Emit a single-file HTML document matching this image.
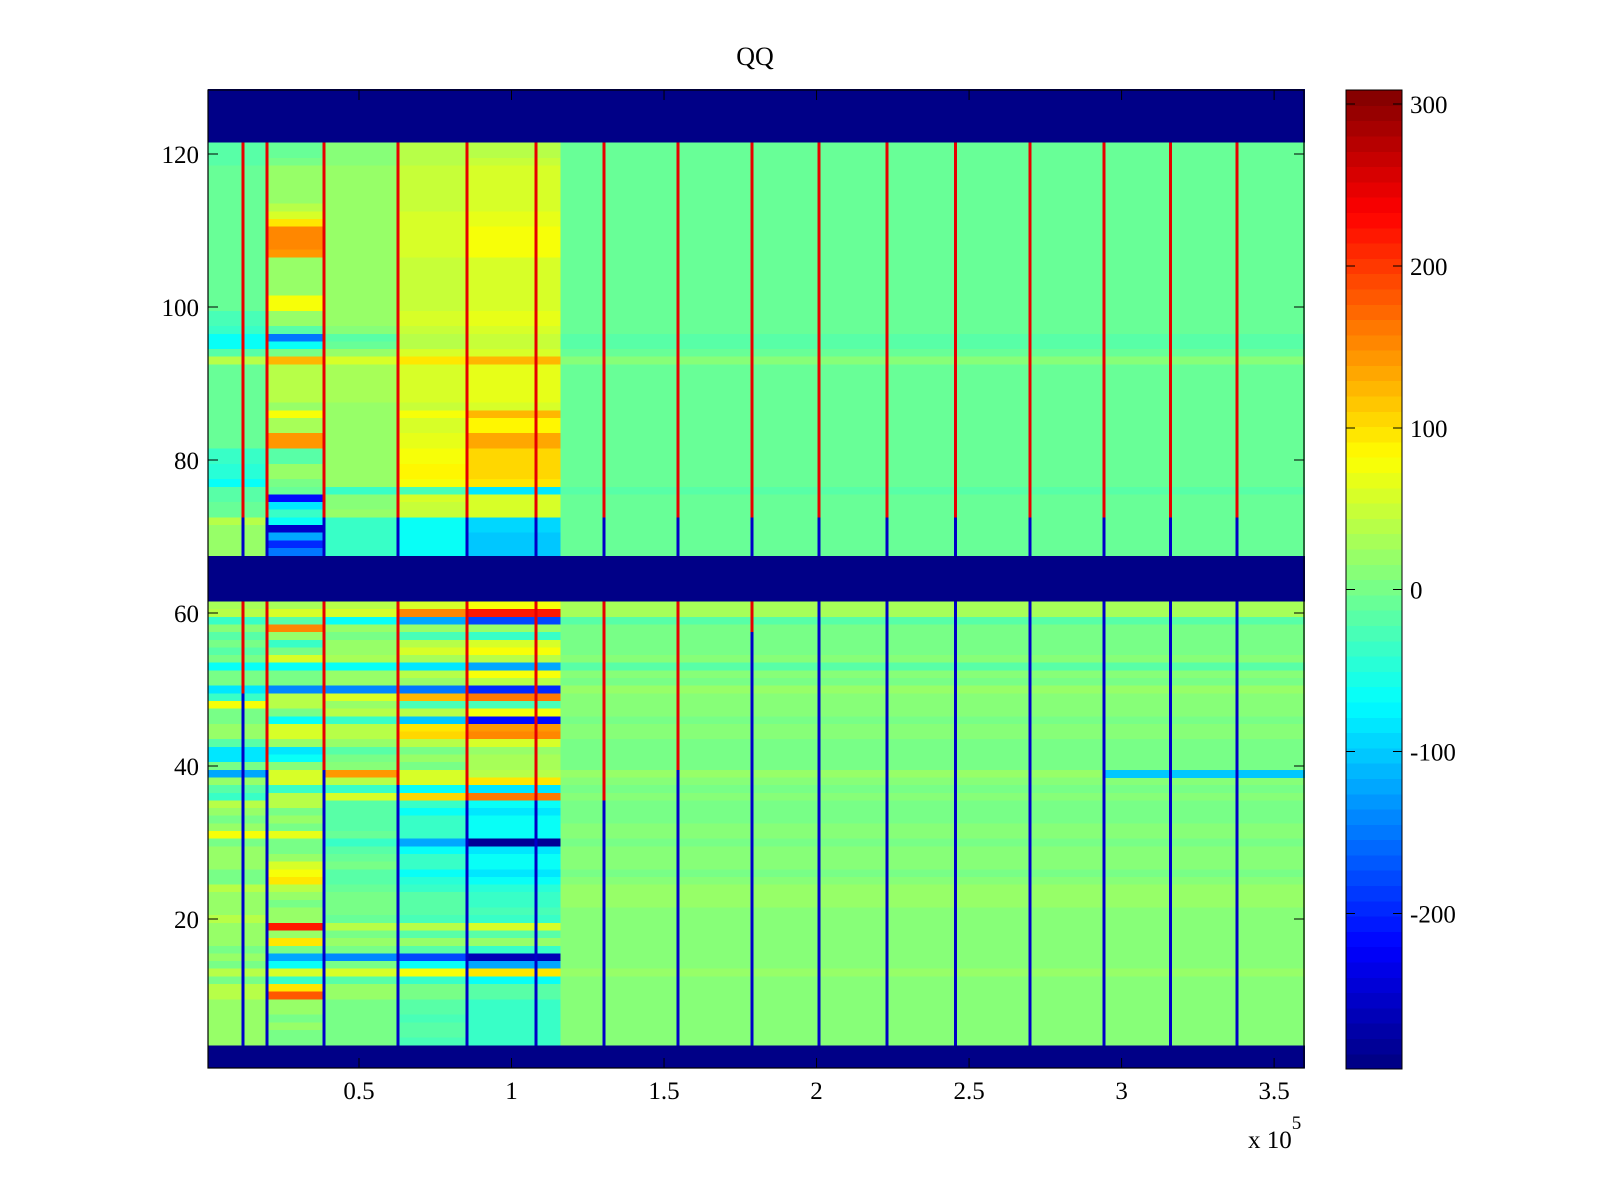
<!DOCTYPE html>
<html>
<head>
<meta charset="utf-8">
<style>
  html,body{margin:0;padding:0;background:#fff;}
  #wrap{position:relative;width:1600px;height:1200px;overflow:hidden;background:#fff;}
  svg text{font-family:"Liberation Serif","DejaVu Serif",serif;fill:#000;}
</style>
</head>
<body>
<div id="wrap">
<svg id="chart" width="1600" height="1200" viewBox="0 0 1600 1200" xmlns="http://www.w3.org/2000/svg">
  <g id="cells" shape-rendering="crispEdges"></g>
  <g id="vlines" shape-rendering="crispEdges"></g>
  <g id="axes"></g>
  <g id="cbar" shape-rendering="crispEdges"></g>
  <text x="755" y="65" font-size="26" text-anchor="middle">QQ</text>
  <text x="1248" y="1148" font-size="25">x 10<tspan font-size="19" dy="-19">5</tspan></text>
</svg>
</div>
<script>
// ---------- data ----------
const segEdges = [500, 19800, 38500, 62800, 85400, 116000, 360000];
const bandRows = [1,2,3,62,63,64,65,66,67,122,123,124,125,126,127,128];
const cellRows = [
 [121,-20,-10,10,40,40,-5],[120,-20,-10,10,40,40,-5],[119,-20,0,10,40,50,-5],
 [118,-10,20,20,50,60,-5],[117,-10,20,20,50,60,-5],[116,-10,20,20,50,60,-5],[115,-10,20,20,50,60,-5],[114,-10,20,20,50,60,-5],
 [113,-10,40,20,50,60,-5],[112,-10,60,20,60,70,-5],[111,-10,100,20,60,70,-5],
 [110,-10,150,20,60,80,-5],[109,-10,150,20,60,80,-5],[108,-10,150,20,60,80,-5],[107,-10,140,20,60,80,-5],
 [106,-10,20,20,50,60,-5],[105,-10,20,20,50,60,-5],[104,-10,20,20,50,60,-5],[103,-10,20,20,50,60,-5],[102,-10,20,20,50,60,-5],
 [101,-10,80,20,50,60,-5],[100,-10,80,20,50,60,-5],
 [99,-30,20,20,60,70,-10],[98,-30,20,20,60,70,-10],[97,-40,-20,10,50,60,-10],
 [96,-60,-150,-20,40,50,-15],[95,-60,-60,-10,40,50,-15],[94,-20,0,20,60,60,-5],
 [93,40,120,60,100,120,10],
 [92,-10,40,30,60,70,-5],[91,-10,40,30,60,70,-5],[90,-10,40,30,60,70,-5],[89,-10,40,30,60,70,-5],[88,-10,40,30,60,70,-5],
 [87,-10,20,20,50,60,-5],[86,-10,80,20,80,120,-5],[85,-10,30,20,60,90,-5],[84,-10,30,20,60,90,-5],
 [83,-10,140,20,70,130,-5],[82,-10,140,20,70,130,-5],
 [81,-40,-20,20,80,110,-10],[80,-40,-20,20,80,110,-10],[79,-50,20,20,90,110,-10],[78,-50,20,20,90,110,-10],
 [77,-60,0,20,80,100,-10],[76,-20,-10,-40,-30,-80,-20],[75,-20,-220,10,60,60,-5],[74,-10,-80,10,50,60,-5],
 [73,-10,-40,20,50,60,-5],[72,40,-60,-40,-60,-90,-5],[71,20,-250,-40,-60,-90,-5],[70,20,-120,-40,-60,-100,-5],
 [69,20,-200,-40,-60,-100,-5],[68,20,-150,-40,-60,-100,-5],
 [61,30,30,40,60,80,30],[60,40,60,60,150,220,30],[59,-40,-20,-60,-120,-180,-20],[58,10,150,20,20,20,0],
 [57,-20,20,0,-30,-40,0],[56,0,-40,20,40,60,0],[55,-20,0,20,60,80,0],[54,0,60,30,30,40,10],
 [53,-60,-60,-60,-80,-120,-20],[52,0,0,20,40,80,10],[51,0,0,20,20,40,0],[50,-80,-140,-140,-150,-200,20],
 [49,-40,40,60,120,160,10],[48,80,40,20,-30,-30,10],[47,0,0,40,40,80,10],[46,0,-60,-40,-100,-220,0],
 [45,20,60,40,100,140,10],[44,20,60,40,110,150,10],[43,-20,20,20,40,60,0],[42,-80,-80,-20,0,20,0],
 [41,-80,-60,0,20,30,0],[40,0,10,10,0,30,0],[39,-120,60,140,60,40,20],[38,20,60,40,60,100,10],
 [37,-20,-40,-40,-60,-80,0],[36,-40,40,60,110,160,10],[35,40,40,-20,-40,-60,0],[34,20,0,-20,-60,-80,0],
 [33,0,20,-20,-40,-60,0],[32,20,0,-20,-40,-60,10],[31,80,70,-10,-40,-60,10],[30,0,0,-40,-120,-280,0],
 [29,20,0,-20,-60,-80,10],[28,20,20,-10,-40,-60,10],[27,20,60,0,-40,-60,10],[26,0,80,-20,-60,-80,0],
 [25,0,100,-20,-50,-60,10],[24,40,40,-10,-40,-50,20],[23,20,20,0,-20,-40,20],[22,20,0,0,-20,-40,20],
 [21,20,20,0,-20,-30,10],[20,40,20,-10,-30,-40,10],[19,20,220,40,40,60,10],[18,20,20,0,-20,-20,10],
 [17,20,100,20,20,20,10],[16,0,0,0,-20,-40,10],[15,20,-120,-140,-180,-260,10],[14,0,-60,0,-60,-120,10],
 [13,40,60,60,80,100,20],[12,0,-40,-20,-40,-60,10],[11,40,100,20,0,-20,10],[10,40,180,20,0,-20,10],
 [9,20,20,0,-20,-40,10],[8,20,20,0,-20,-40,10],[7,20,0,0,-30,-40,10],[6,20,20,0,-20,-40,10],
 [5,20,0,0,-20,-40,10],[4,20,0,0,-30,-40,10]
];
const stripeRow = 39;
const stripeStart = 294200;
const stripeEnd = 360000;
const stripeValue = -100;
const lineX = [12000,19800,38500,62800,85400,108000,130300,154600,178900,200800,223100,245600,270000,294200,316000,337900];
const lineRedTo = [50,40,40,38,36,36,36,40,58,62,62,62,62,62,62,62];
const lineHigh = 250;
const lineLow = -250;
const lineUpperBlueBelow = 73;
const xTicks = [0.5,1,1.5,2,2.5,3,3.5];
const xTickLabels = ["0.5","1","1.5","2","2.5","3","3.5"];
const yTicks = [20,40,60,80,100,120];
const cTicks = [300,200,100,0,-100,-200];
const cMin = -296, cMax = 308.6;

// ---------- scales ----------
const X0=208, X1=1304, Y0=90, Y1=1068;
const xDom=[500,359800];
function xs(v){return X0+(v-xDom[0])/(xDom[1]-xDom[0])*(X1-X0);}
function ys(v){return 1072-7.65*v;}
const CB_X=1346, CB_W=56, CB_TOP=90, CB_BOT=1069;
function cs(v){return CB_BOT-(v-cMin)/(cMax-cMin)*(CB_BOT-CB_TOP);}
function jet(v){
  let i=Math.floor((v-cMin)/(cMax-cMin)*64); if(i<0)i=0; if(i>63)i=63;
  const x=(i+0.5)/64;
  const c=t=>Math.max(0,Math.min(1,t));
  const r=c(1.5-Math.abs(4*x-3)), g=c(1.5-Math.abs(4*x-2)), b=c(1.5-Math.abs(4*x-1));
  return `rgb(${Math.round(r*255)},${Math.round(g*255)},${Math.round(b*255)})`;
}
const NS="http://www.w3.org/2000/svg";
function mk(tag,attrs,parent){const e=document.createElementNS(NS,tag);for(const k in attrs)e.setAttribute(k,attrs[k]);parent.appendChild(e);return e;}

// ---------- cells ----------
const cells=document.getElementById('cells');
function cell(r,v0,v1,val){
  const yTop=ys(r+0.5), yBot=ys(r-0.5);
  const e=mk('rect',{x:xs(v0).toFixed(2),y:yTop.toFixed(2),width:(xs(v1)-xs(v0)+0.5).toFixed(2),height:(yBot-yTop+0.5).toFixed(2),fill:jet(val)},cells);
  
  
}
bandRows.forEach(r=>cell(r,segEdges[0],segEdges[segEdges.length-1],cMin));
cellRows.forEach(row=>{
  const r=row[0];
  for(let s=0;s<segEdges.length-1;s++) cell(r,segEdges[s],segEdges[s+1],row[s+1]);
});
cell(stripeRow,stripeStart,stripeEnd,stripeValue);

// ---------- vertical stripes ----------
const vl=document.getElementById('vlines');
cellRows.forEach(row=>{
  const r=row[0];
  lineX.forEach((lx,i)=>{
    let val;
    if(r>=68) val = r>=lineUpperBlueBelow ? lineHigh : lineLow;
    else val = r>=lineRedTo[i] ? lineHigh : lineLow;
    const yTop=ys(r+0.5), yBot=ys(r-0.5);
    const e=mk('rect',{x:(xs(lx)-1.5).toFixed(2),y:yTop.toFixed(2),width:3,height:(yBot-yTop+0.5).toFixed(2),fill:jet(val)},vl);
    
    
  });
});

// ---------- axes ----------
const ax=document.getElementById('axes');
const frame=mk('rect',{x:X0,y:Y0,width:X1-X0,height:Y1-Y0,fill:'none',stroke:'#000','stroke-width':1.2},ax);


xTicks.forEach((t,i)=>{
  const x=xs(t*1e5);
  mk('line',{x1:x,y1:Y1,x2:x,y2:Y1-10,stroke:'#000','stroke-width':1},ax);
  mk('line',{x1:x,y1:Y0,x2:x,y2:Y0+10,stroke:'#000','stroke-width':1},ax);
  const tx=mk('text',{x:x,y:1099,'font-size':25,'text-anchor':'middle'},ax);
  tx.textContent=xTickLabels[i];
  
  
});
yTicks.forEach(t=>{
  const y=ys(t);
  mk('line',{x1:X0,y1:y,x2:X0+10,y2:y,stroke:'#000','stroke-width':1},ax);
  mk('line',{x1:X1,y1:y,x2:X1-10,y2:y,stroke:'#000','stroke-width':1},ax);
  const tx=mk('text',{x:199,y:y+9,'font-size':25,'text-anchor':'end'},ax);
  tx.textContent=String(t);
  
  
});

// ---------- colorbar ----------
const cb=document.getElementById('cbar');
for(let i=0;i<64;i++){
  const v0=cMin+i*(cMax-cMin)/64, v1=cMin+(i+1)*(cMax-cMin)/64;
  const e=mk('rect',{x:CB_X,y:cs(v1).toFixed(2),width:CB_W,height:(cs(v0)-cs(v1)+0.6).toFixed(2),fill:jet((v0+v1)/2)},cb);
  
  
}
mk('rect',{x:CB_X,y:CB_TOP,width:CB_W,height:CB_BOT-CB_TOP,fill:'none',stroke:'#000','stroke-width':1.2},cb);
cTicks.forEach(t=>{
  const y=cs(t);
  mk('line',{x1:CB_X,y1:y,x2:CB_X+9,y2:y,stroke:'#000','stroke-width':1},cb);
  mk('line',{x1:CB_X+CB_W,y1:y,x2:CB_X+CB_W-9,y2:y,stroke:'#000','stroke-width':1},cb);
  const tx=mk('text',{x:1410,y:y+9,'font-size':25},cb);
  tx.textContent=String(t);
  
  
});
</script>
</body>
</html>
